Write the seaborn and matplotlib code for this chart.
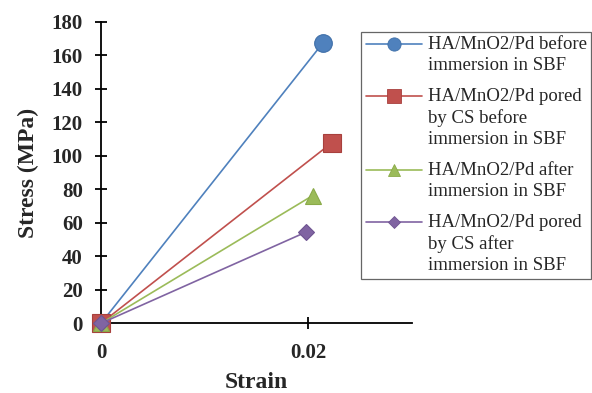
import matplotlib
matplotlib.use("Agg")
import matplotlib.pyplot as plt
import seaborn as sns
import pandas as pd
from matplotlib.lines import Line2D

series_labels = [
    "HA/MnO2/Pd before\nimmersion in SBF",
    "HA/MnO2/Pd pored\nby CS before\nimmersion in SBF",
    "HA/MnO2/Pd after\nimmersion in SBF",
    "HA/MnO2/Pd pored\nby CS after\nimmersion in SBF",
]
strain_values = [
    [0.0, 0.02145],
    [0.0, 0.02226],
    [0.0, 0.02043],
    [0.0, 0.01978],
]
stress_values = [
    [0.0, 167.5],
    [0.0, 107.6],
    [0.0, 76.2],
    [0.0, 54.4],
]
colors = ["#4F81BD", "#C0504D", "#9BBB59", "#8064A2"]
edge_colors = ["#3F6FA8", "#A8403D", "#8AAA48", "#6F5491"]
markers = ["o", "s", "^", "D"]
marker_sizes = [12.7, 12.5, 12.0, 8.5]
x_ticks = [0, 0.02]
x_tick_labels = ["0", "0.02"]
y_ticks = list(range(0, 181, 20))

rows = []
for lab, xs, ys in zip(series_labels, strain_values, stress_values):
    for x, y in zip(xs, ys):
        rows.append({"series": lab, "Strain": x, "Stress": y})
df = pd.DataFrame(rows)

sns.set_style("white")
plt.rcParams["font.family"] = ["Liberation Serif", "DejaVu Serif"]

fig = plt.figure(figsize=(5.92, 3.93), dpi=100)
ax = fig.add_axes([101 / 592, (393 - 323.3) / 393, (411.7 - 101) / 592, (323.3 - 21.7) / 393])

sns.lineplot(data=df, x="Strain", y="Stress", hue="series", style="series",
             hue_order=series_labels, style_order=series_labels,
             palette=colors, markers=markers, dashes=False, sort=False,
             linewidth=1.2, ax=ax, legend=False)

for line, ms, ec in zip(ax.lines, marker_sizes, edge_colors):
    line.set_markersize(ms)
    line.set_markeredgecolor(ec)
    line.set_markeredgewidth(0.8)
    line.set_clip_on(False)
    line.set_zorder(3)

ax.set_xlim(0, 0.03)
ax.set_ylim(0, 180)
ax.set_xticks(x_ticks)
ax.set_xticklabels(x_tick_labels)
ax.set_yticks(y_ticks)

for s in ["top", "right"]:
    ax.spines[s].set_visible(False)
for s in ["left", "bottom"]:
    ax.spines[s].set_linewidth(1.3)
    ax.spines[s].set_color("black")
    ax.spines[s].set_zorder(2)

ax.tick_params(axis="both", direction="inout", length=9, width=1.3, color="black",
               labelsize=15, left=True, bottom=True)
ax.tick_params(axis="y", pad=8.5)
ax.tick_params(axis="x", pad=10)
for lab in ax.get_xticklabels() + ax.get_yticklabels():
    lab.set_fontweight("bold")

ax.set_xlabel("Strain", fontsize=17, fontweight="bold", labelpad=6)
ax.set_ylabel("Stress (MPa)", fontsize=17, fontweight="bold", labelpad=9)

handles = [Line2D([], [], color=c, marker=m, markersize=ms * 0.75, linewidth=1.2,
                  markeredgecolor=ec, markeredgewidth=0.6)
           for c, m, ms, ec in zip(colors, markers, marker_sizes, edge_colors)]
leg = fig.legend(handles, series_labels, loc="upper left",
                 bbox_to_anchor=(361 / 592, (393 - 31.7) / 393),
                 fontsize=13.5, frameon=True, fancybox=False, handlelength=3.0,
                 handletextpad=0.3, labelspacing=0.75, borderpad=0.25,
                 borderaxespad=0, handleheight=1.2)
leg.get_frame().set_edgecolor("#404040")
leg.get_frame().set_linewidth(0.9)
for t in leg.get_texts():
    t.set_linespacing(1.3)
for vp in leg._legend_handle_box.get_children():
    for hp in vp.get_children():
        hp.align = "top"

fig.savefig("out.png", dpi=100)
